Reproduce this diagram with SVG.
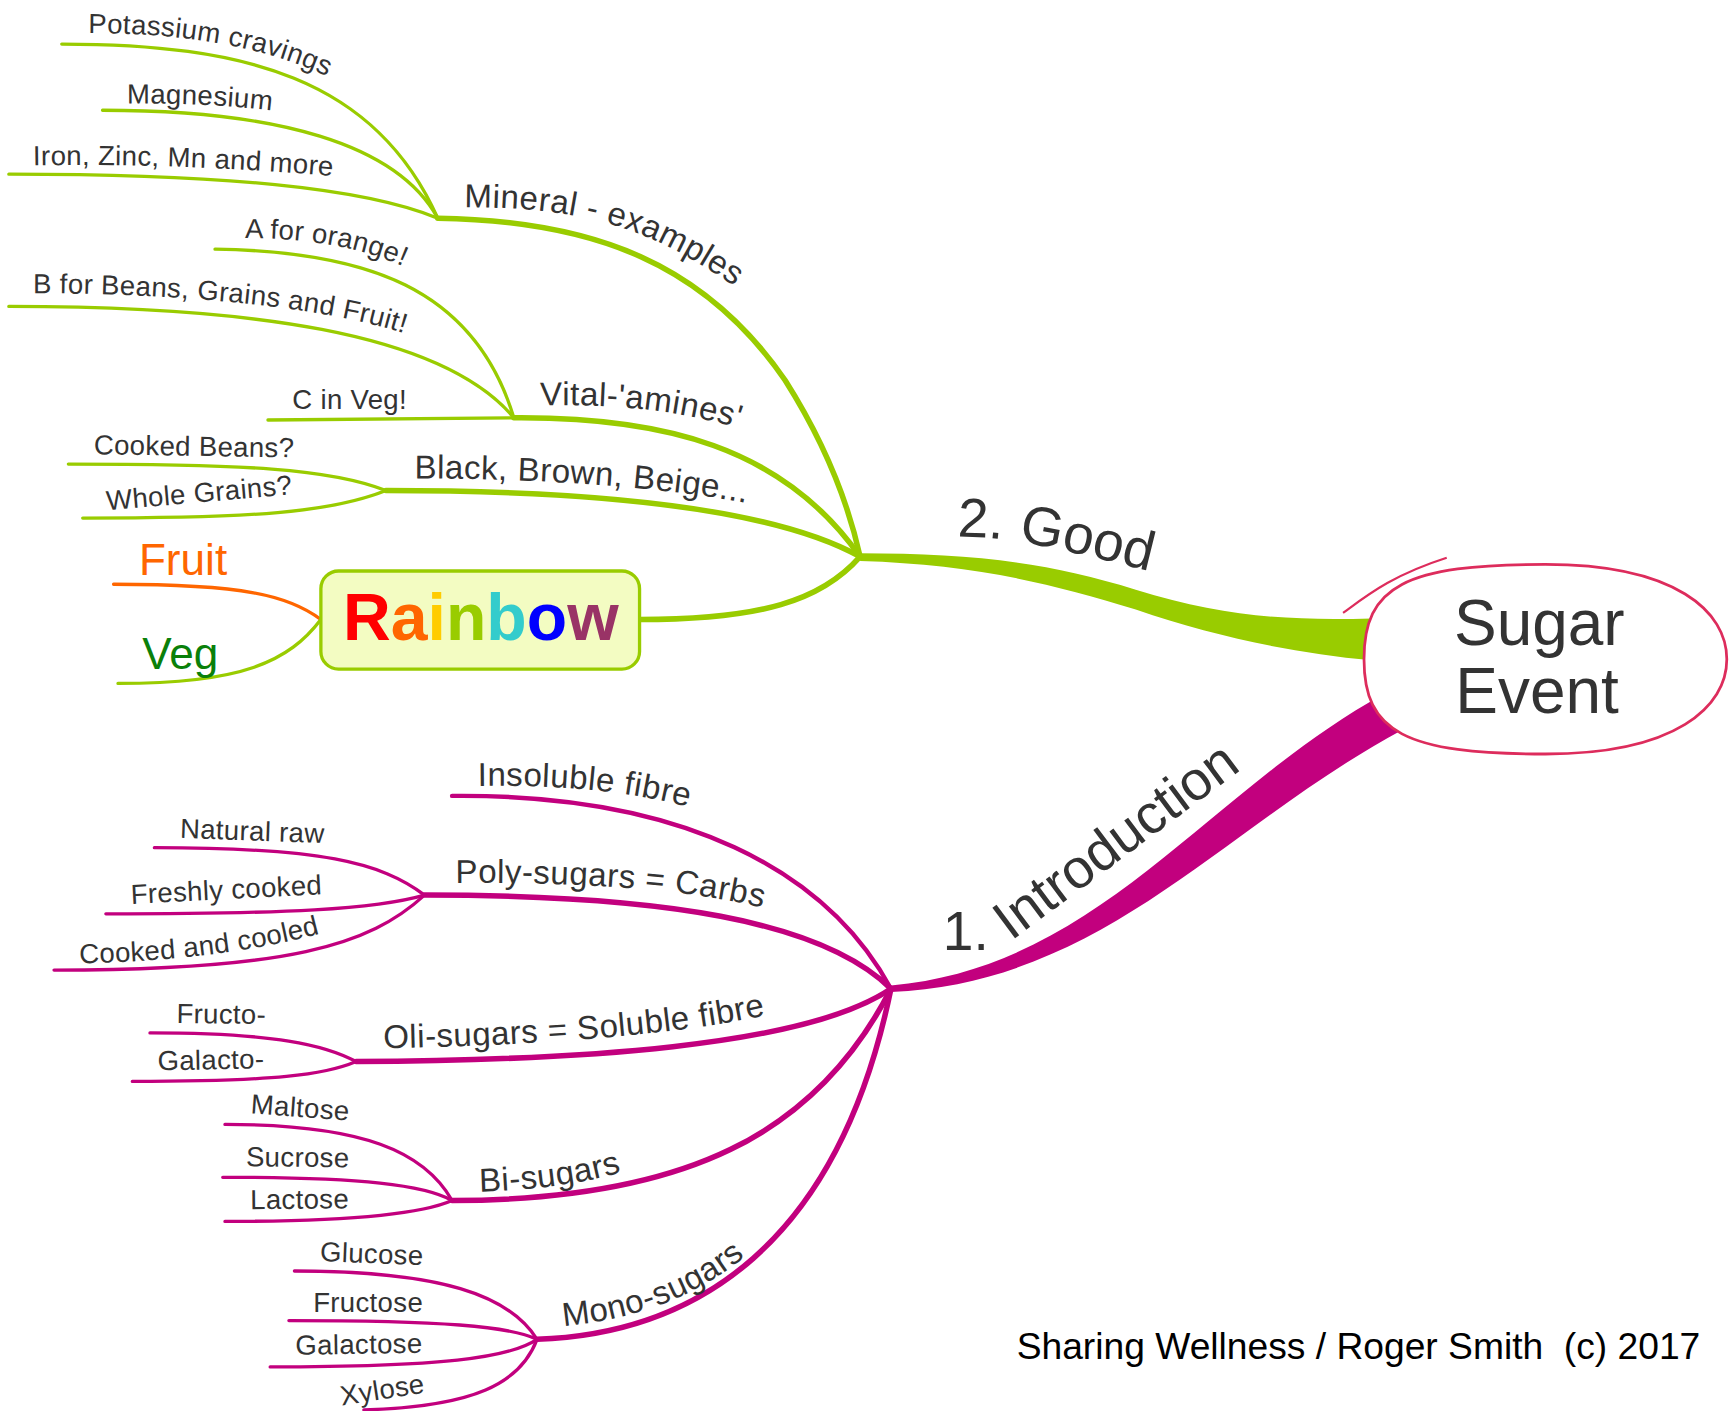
<svg xmlns="http://www.w3.org/2000/svg" xmlns:xlink="http://www.w3.org/1999/xlink" width="1729" height="1411" viewBox="0 0 1729 1411">
<style>
.t{font-family:"Liberation Sans",Arial,sans-serif;fill:#333}
.leaf{font-size:25px;letter-spacing:0.3px}
.mid{font-size:30px;letter-spacing:0.4px}
.main{font-size:50px;fill:#333}
.g{stroke:#99cc00;fill:none;stroke-linecap:round}
.m{stroke:#c2007e;fill:none;stroke-linecap:round}
.w5{stroke-width:5}
.w3{stroke-width:3}
</style>
<defs>
<path id="p-pot" d="M80,30 C160,30 235,40 298,70"/>
<path id="p-mag" d="M115,94 Q190,93 252,101"/>
<path id="p-iron" d="M30,150 Q170,148 304,160"/>
<path id="p-min" d="M421,188 C530,188 590,206 672,264"/>
<path id="p-aor" d="M222,216 C285,216 335,226 375,246"/>
<path id="p-bfor" d="M30,266 C150,266 290,276 375,305"/>
<path id="p-cin" d="M265,371 L372,371"/>
<path id="p-vit" d="M490,368 C560,366 625,373 680,392"/>
<path id="p-bbb" d="M376,434 C480,434 600,441 680,457"/>
<path id="p-cb" d="M85,412 L272,415"/>
<path id="p-wg" d="M97,463 L270,448"/>
<path id="p-ins" d="M433,713 C520,712 575,719 628,733"/>
<path id="p-poly" d="M413,801 C520,800 625,806 698,825"/>
<path id="p-nat" d="M163,760 L298,765"/>
<path id="p-fresh" d="M119,820 L296,811"/>
<path id="p-cac" d="M72,874 C150,872 225,865 294,846"/>
<path id="p-oli" d="M348,951 C460,949 605,941 694,921"/>
<path id="p-fru" d="M160,928 L246,929"/>
<path id="p-gal" d="M143,971 L245,969"/>
<path id="p-bi" d="M435,1081 C480,1080 530,1074 568,1062"/>
<path id="p-mal" d="M227,1010 L322,1017"/>
<path id="p-suc" d="M223,1058 L322,1059"/>
<path id="p-lac" d="M227,1097 L322,1096"/>
<path id="p-mono" d="M511,1203 C565,1198 625,1182 678,1138"/>
<path id="p-glu" d="M290,1144 L390,1148"/>
<path id="p-fruc" d="M284,1190 L388,1190"/>
<path id="p-galac" d="M268,1229 L388,1227"/>
<path id="p-xyl" d="M310,1275 L388,1263"/>
<path id="p-good" d="M868,487 C910,487 940,492 1066,524"/>
<path id="p-intro" d="M855,862 L906,862 L1126,698"/>
</defs>
<g transform="scale(1.10268,1.10234)">
<g id="connectors">
<path d="M780,502 C880,502 950,510 1030,535 C1110,560 1170,563 1244,561 L1244,599 C1170,592 1100,577 1030,553 C950,528 880,512 780,509 Z" fill="#99cc00"/>
<path d="M808,894 C997,877 1092,720 1254,630 L1272,662 C1108,750 1003,891 808,900 Z" fill="#c2007e"/>
<path class="g w5" d="M397,198 C540,200 640,240 712,345 C750,405 770,460 780,505"/>
<path class="g w5" d="M466,379 C600,378 710,405 780,505"/>
<path class="g w5" d="M350,445 C500,445 690,455 780,505"/>
<path class="g w5" d="M580,562 C690,562 745,545 780,505"/>
<path class="g w3" d="M56,40 C220,40 340,70 397,198"/>
<path class="g w3" d="M93,100 C250,100 360,130 397,198"/>
<path class="g w3" d="M8,158 C200,158 330,170 397,198"/>
<path class="g w3" d="M195,226 C330,228 430,260 466,379"/>
<path class="g w3" d="M8,278 C220,278 400,300 466,379"/>
<path class="g w3" d="M243,381 L466,379"/>
<path class="g w3" d="M62,421 C220,421 300,425 350,445"/>
<path class="g w3" d="M75,470 C230,470 300,465 350,445"/>
<path class="w3" fill="none" stroke="#ff6600" stroke-linecap="round" d="M103,530 C220,530 262,540 291,562"/>
<path class="g w3" d="M107,620 C220,620 262,600 291,562"/>
<path class="m" stroke-width="4" d="M410,722 C620,720 750,790 808,897"/>
<path class="m w5" d="M385,812 C600,812 745,835 808,897"/>
<path class="m w5" d="M323,963 C520,962 730,950 808,897"/>
<path class="m w5" d="M410,1089 C620,1089 740,1030 808,897"/>
<path class="m w5" d="M487,1215 C630,1210 760,1130 808,897"/>
<path class="m w3" d="M140,769 C290,769 345,782 385,812"/>
<path class="m w3" d="M96,829 C260,829 340,825 385,812"/>
<path class="m w3" d="M49,880 C260,880 335,858 385,812"/>
<path class="m w3" d="M136,937 C250,937 295,948 323,963"/>
<path class="m w3" d="M120,981 C250,981 295,975 323,963"/>
<path class="m w3" d="M204,1020 C330,1020 385,1045 410,1089"/>
<path class="m w3" d="M202,1068 C330,1068 385,1075 410,1089"/>
<path class="m w3" d="M204,1108 C330,1108 385,1100 410,1089"/>
<path class="m w3" d="M267,1153 C400,1153 462,1175 487,1215"/>
<path class="m w3" d="M262,1198 C400,1198 462,1203 487,1215"/>
<path class="m w3" d="M245,1240 C400,1240 462,1232 487,1215"/>
<path class="m w3" d="M330,1279 C430,1276 472,1255 487,1215"/>
</g>
<g id="center">
<path d="M1237,598 C1237,532 1274,512 1401.5,512 C1520,512 1566,555 1566,598 C1566,641 1520,684 1401.5,684 C1274,684 1237,664 1237,598 Z" fill="#fff" stroke="#dd2c5c" stroke-width="2.5"/>
<path d="M1218,556 C1240,540 1262,522 1312,506" fill="none" stroke="#dd2c5c" stroke-width="2"/>
<text class="t" x="1396" y="585" font-size="58" text-anchor="middle" fill="#222">Sugar</text>
<text class="t" x="1394" y="647" font-size="58" text-anchor="middle" fill="#222">Event</text>
</g>
<g id="good"><text class="t main"><textPath xlink:href="#p-good">2. Good</textPath></text></g>
<g id="intro"><text class="t main" word-spacing="9"><textPath xlink:href="#p-intro">1. Introduction</textPath></text></g>
<g id="mineral"><text class="t mid"><textPath xlink:href="#p-min">Mineral - examples</textPath></text></g>
<g id="potassium"><text class="t leaf"><textPath xlink:href="#p-pot">Potassium cravings</textPath></text></g>
<g id="magnesium"><text class="t leaf"><textPath xlink:href="#p-mag">Magnesium</textPath></text></g>
<g id="iron"><text class="t leaf"><textPath xlink:href="#p-iron">Iron, Zinc, Mn and more</textPath></text></g>
<g id="vital"><text class="t mid"><textPath xlink:href="#p-vit">Vital-'amines'</textPath></text></g>
<g id="vit-a"><text class="t leaf"><textPath xlink:href="#p-aor">A for orange!</textPath></text></g>
<g id="vit-b"><text class="t leaf"><textPath xlink:href="#p-bfor">B for Beans, Grains and Fruit!</textPath></text></g>
<g id="vit-c"><text class="t leaf"><textPath xlink:href="#p-cin">C in Veg!</textPath></text></g>
<g id="bbb"><text class="t mid"><textPath xlink:href="#p-bbb">Black, Brown, Beige...</textPath></text></g>
<g id="cooked-beans"><text class="t leaf"><textPath xlink:href="#p-cb">Cooked Beans?</textPath></text></g>
<g id="whole-grains"><text class="t leaf"><textPath xlink:href="#p-wg">Whole Grains?</textPath></text></g>
<g id="rainbow">
<rect x="291" y="518" width="289" height="89" rx="16" fill="#f3fcc2" stroke="#99cc00" stroke-width="3"/>
<text x="436" y="581" font-family="Liberation Sans,Arial,sans-serif" font-weight="bold" font-size="60" text-anchor="middle"><tspan fill="#ff0000">R</tspan><tspan fill="#ff6600">a</tspan><tspan fill="#ffcc00">i</tspan><tspan fill="#99cc00">n</tspan><tspan fill="#33cccc">b</tspan><tspan fill="#0000ff">o</tspan><tspan fill="#993366">w</tspan></text>
</g>
<g id="fruit"><text x="126" y="522" font-family="Liberation Sans,Arial,sans-serif" font-size="40" fill="#ff6600">Fruit</text></g>
<g id="veg"><text x="129" y="607" font-family="Liberation Sans,Arial,sans-serif" font-size="40" fill="#0a800a">Veg</text></g>
<g id="insoluble"><text class="t mid"><textPath xlink:href="#p-ins">Insoluble fibre</textPath></text></g>
<g id="poly"><text class="t mid"><textPath xlink:href="#p-poly">Poly-sugars = Carbs</textPath></text></g>
<g id="natural"><text class="t leaf"><textPath xlink:href="#p-nat">Natural raw</textPath></text></g>
<g id="freshly"><text class="t leaf"><textPath xlink:href="#p-fresh">Freshly cooked</textPath></text></g>
<g id="cooled"><text class="t leaf"><textPath xlink:href="#p-cac">Cooked and cooled</textPath></text></g>
<g id="oli"><text class="t mid"><textPath xlink:href="#p-oli">Oli-sugars = Soluble fibre</textPath></text></g>
<g id="fructo"><text class="t leaf"><textPath xlink:href="#p-fru">Fructo-</textPath></text></g>
<g id="galacto"><text class="t leaf"><textPath xlink:href="#p-gal">Galacto-</textPath></text></g>
<g id="bi"><text class="t mid"><textPath xlink:href="#p-bi">Bi-sugars</textPath></text></g>
<g id="maltose"><text class="t leaf"><textPath xlink:href="#p-mal">Maltose</textPath></text></g>
<g id="sucrose"><text class="t leaf"><textPath xlink:href="#p-suc">Sucrose</textPath></text></g>
<g id="lactose"><text class="t leaf"><textPath xlink:href="#p-lac">Lactose</textPath></text></g>
<g id="mono"><text class="t mid"><textPath xlink:href="#p-mono">Mono-sugars</textPath></text></g>
<g id="glucose"><text class="t leaf"><textPath xlink:href="#p-glu">Glucose</textPath></text></g>
<g id="fructose"><text class="t leaf"><textPath xlink:href="#p-fruc">Fructose</textPath></text></g>
<g id="galactose"><text class="t leaf"><textPath xlink:href="#p-galac">Galactose</textPath></text></g>
<g id="xylose"><text class="t leaf"><textPath xlink:href="#p-xyl">Xylose</textPath></text></g>
<g id="footer"><text x="922" y="1233" font-family="Liberation Sans,Arial,sans-serif" font-size="34" fill="#000" textLength="620" lengthAdjust="spacingAndGlyphs" style="white-space:pre">Sharing Wellness / Roger Smith  (c) 2017</text></g>
</g>
</svg>
